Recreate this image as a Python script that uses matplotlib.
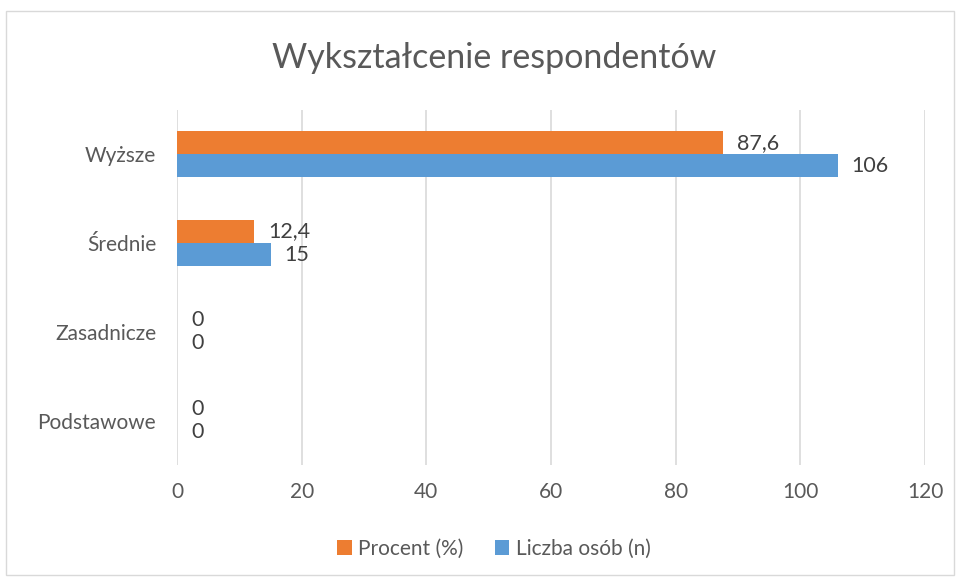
import numpy as np
import matplotlib.pyplot as plt
from matplotlib.patches import Rectangle

plt.rcParams['font.family'] = ['Lato', 'DejaVu Sans']

# data
categories = ['Wyższe', 'Średnie', 'Zasadnicze', 'Podstawowe']
procent = [87.6, 12.4, 0, 0]
liczba = [106, 15, 0, 0]
procent_labels = ['87,6', '12,4', '0', '0']
liczba_labels = ['106', '15', '0', '0']

orange = '#ED7D31'
blue = '#5B9BD5'
text_col = '#595959'

fig = plt.figure(figsize=(9.57, 5.8), dpi=100)
ax = fig.add_axes([177/957, 1 - 465/580, 748/957, 355/580])

y = np.arange(len(categories))
h = 0.26

ax.barh(y - h/2, procent, height=h, color=orange, label='Procent (%)', zorder=3)
ax.barh(y + h/2, liczba, height=h, color=blue, label='Liczba osób (n)', zorder=3)

for yi, v, lab in zip(y, procent, procent_labels):
    ax.annotate(lab, (v, yi - h/2), xytext=(10, 0), textcoords='offset points',
                va='center', ha='left', fontsize=15.5, color='#404040')
for yi, v, lab in zip(y, liczba, liczba_labels):
    ax.annotate(lab, (v, yi + h/2), xytext=(10, 0), textcoords='offset points',
                va='center', ha='left', fontsize=15.5, color='#404040')

ax.set_xlim(0, 120)
ax.set_ylim(len(categories) - 0.5, -0.5)
ax.set_xticks(np.arange(0, 121, 20))
ax.set_yticks(y)
ax.set_yticklabels(categories)
ax.tick_params(axis='both', length=0, labelsize=15, labelcolor=text_col)
ax.tick_params(axis='x', pad=12)
ax.tick_params(axis='y', pad=15)
ax.grid(axis='x', color='#D9D9D9', linewidth=1.2, zorder=0)
for s in ax.spines.values():
    s.set_visible(False)

fig.text(0.516, 1 - 58/580, 'Wykształcenie respondentów', ha='center', va='center',
         fontsize=24.5, color=text_col)

fig.legend(loc='center', bbox_to_anchor=(0.516, 1 - 549/580), ncol=2, frameon=False,
           fontsize=15, labelcolor=text_col, handlelength=0.7, handleheight=0.7,
           handletextpad=0.3, columnspacing=1.5)

fig.patches.append(Rectangle((6/957, 5/580), 948/957, 564/580, transform=fig.transFigure,
                             fill=False, edgecolor='#D9D9D9', linewidth=1))

fig.savefig('out.png', dpi=100)
